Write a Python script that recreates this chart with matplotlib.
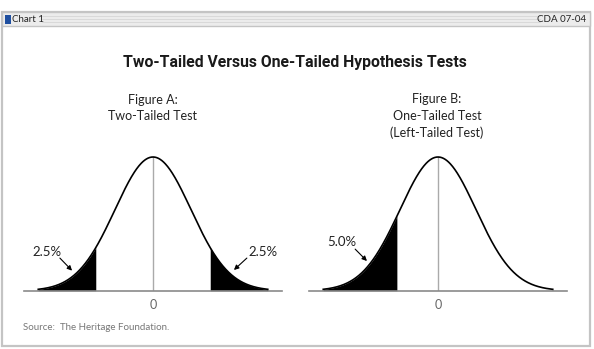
import numpy as np
import matplotlib.pyplot as plt
from matplotlib.patches import Rectangle

# 数据
title = "Two-Tailed Versus One-Tailed Hypothesis Tests"
subtitle_a = "Figure A:\nTwo-Tailed Test"
subtitle_b = "Figure B:\nOne-Tailed Test\n(Left-Tailed Test)"
cuts_a = [-1.5, 1.5]        # 阴影边界 (标准差单位, 按图读取)
cut_b = -1.07
labels_a = ["2.5%", "2.5%"]
label_b = "5.0%"
source = "Source:  The Heritage Foundation."

W, H = 594, 349
fig = plt.figure(figsize=(W / 100, H / 100), dpi=100)

# 背景画布 (像素坐标)
bg = fig.add_axes([0, 0, 1, 1])
bg.set_xlim(0, W)
bg.set_ylim(H, 0)
bg.axis('off')

bg.add_patch(Rectangle((2, 12), 588, 334, fill=False, ec='#c4c4c4', lw=1.6))
bg.add_patch(Rectangle((2, 12), 588, 14, fc='#ececec', ec='#c4c4c4', lw=1.0))
for yy in [16, 19, 22]:
    bg.plot([42, 540], [yy, yy], color='#d6d6d6', lw=0.6)
bg.add_patch(Rectangle((4.5, 14.5), 6, 9, fc='#1f4fa0', ec='none'))
bg.text(12.5, 19.5, "Chart 1", fontsize=7, family='Lato', color='#222', va='center')
bg.text(586, 19.5, "CDA 07-04", fontsize=7, family='Lato', color='#222', va='center', ha='right')

bg.text(295, 62, title, fontsize=11.3, fontweight='bold', ha='center', va='center',
        family='Roboto', color='#1a1a1a')
bg.text(153, 108, subtitle_a, fontsize=9, ha='center', va='center',
        family='Lato', color='#222', linespacing=1.45)
bg.text(437, 116, subtitle_b, fontsize=9, ha='center', va='center',
        family='Lato', color='#222', linespacing=1.45)
bg.text(23, 327, source, fontsize=7, family='Lato', color='#777', va='center')

# 两个分布图
sd_px = 38.0
half = 3.4
top_px, base_px = 157.0, 290.7


def make_ax(center_px):
    left = (center_px - half * sd_px) / W
    width = 2 * half * sd_px / W
    bottom = (H - base_px) / H
    height = (base_px - top_px) / H
    ax = fig.add_axes([left, bottom, width, height])
    ax.patch.set_alpha(0)
    ax.set_xlim(-half, half)
    ax.set_ylim(0, 1)
    for s in ['top', 'left', 'right']:
        ax.spines[s].set_visible(False)
    ax.spines['bottom'].set_color('#8a8a8a')
    ax.spines['bottom'].set_linewidth(1.2)
    ax.set_yticks([])
    ax.set_xticks([0])
    ax.set_xticklabels(['0'], fontsize=9, color='#666', family='Lato')
    ax.tick_params(axis='x', length=0, pad=6)
    x = np.linspace(-3.02, 3.02, 400)
    y = np.exp(-x ** 2 / 2)
    ax.plot(x, y, color='black', lw=1.2, clip_on=False, zorder=3)
    ax.plot([0, 0], [0, 1], color='#aaaaaa', lw=1.0, zorder=1)
    return ax, x, y


ax1, x, y = make_ax(153)
ax1.fill_between(x, y, where=x <= cuts_a[0], color='black', lw=0)
ax1.fill_between(x, y, where=x >= cuts_a[1], color='black', lw=0)
ax1.text(-2.79, 0.29, labels_a[0], fontsize=9.5, family='Lato', ha='center', va='center', color='#222')
ax1.text(2.89, 0.29, labels_a[1], fontsize=9.5, family='Lato', ha='center', va='center', color='#222')
arr = dict(arrowstyle='-|>', color='black', lw=0.8, mutation_scale=7, shrinkA=0, shrinkB=0)
ax1.annotate('', xy=(-2.13, 0.15), xytext=(-2.45, 0.244), arrowprops=arr)
ax1.annotate('', xy=(2.13, 0.155), xytext=(2.47, 0.244), arrowprops=arr)

ax2, x, y = make_ax(438)
ax2.fill_between(x, y, where=x <= cut_b, color='black', lw=0)
ax2.text(-2.53, 0.363, label_b, fontsize=9.5, family='Lato', ha='center', va='center', color='#222')
ax2.annotate('', xy=(-1.87, 0.222), xytext=(-2.18, 0.311), arrowprops=arr)

fig.savefig('out.png', dpi=100)
